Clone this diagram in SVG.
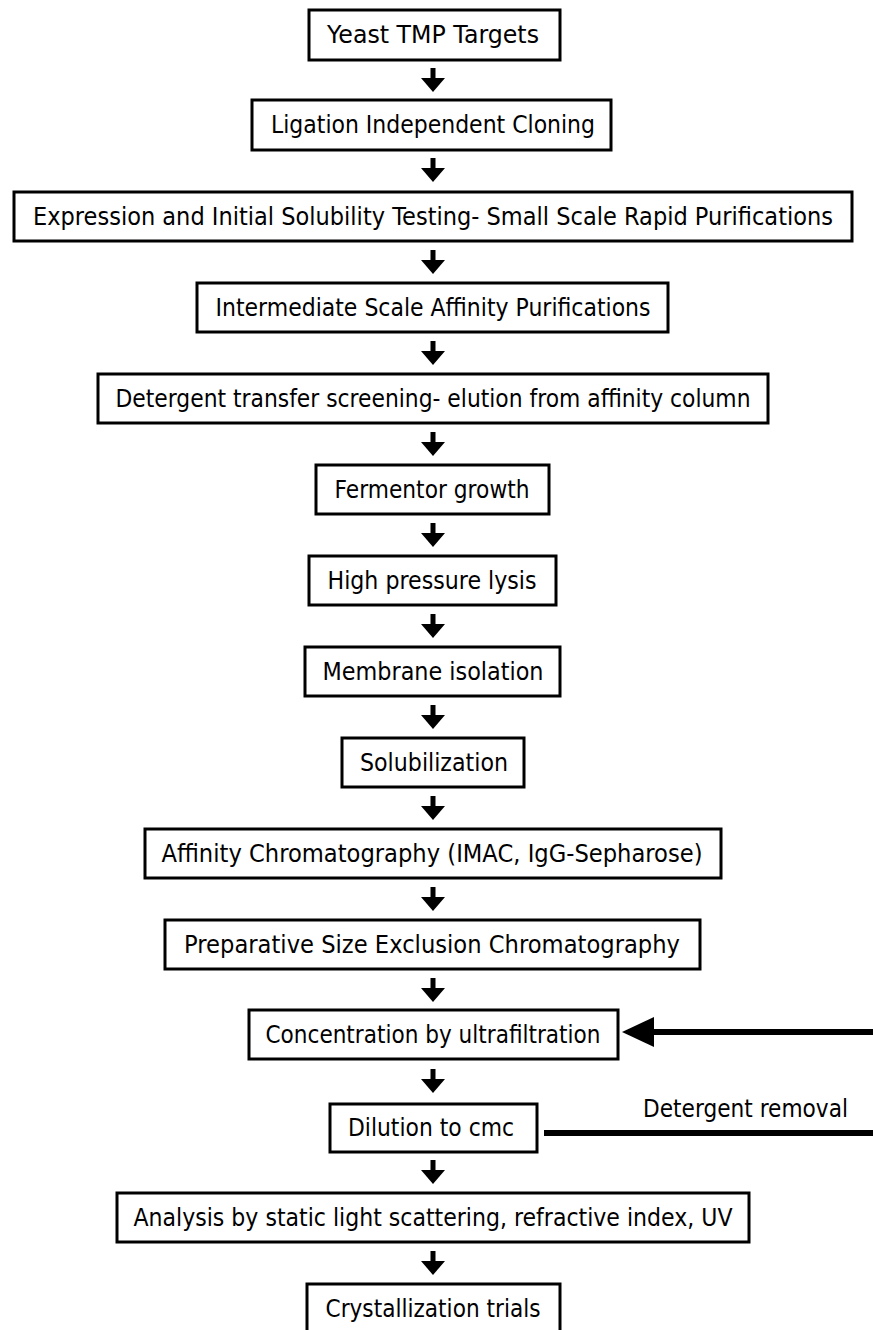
<svg xmlns="http://www.w3.org/2000/svg" width="873" height="1330" viewBox="0 0 873 1330">
<style>
.box{fill:#fff;stroke:#000;stroke-width:3}
.t{font-family:"DejaVu Sans","Liberation Sans",sans-serif;font-size:24px;fill:#000;text-anchor:middle}
.tl{font-family:"DejaVu Sans","Liberation Sans",sans-serif;font-size:24px;fill:#000}
</style>
<defs>
<g id="dn"><rect x="-2.5" y="0" width="5" height="12"/><polygon points="-12,10 12,10 0,24"/></g>
</defs>
<rect width="873" height="1330" fill="#fff"/>
<g id="connectors">
<use href="#dn" x="433" y="68"/>
<use href="#dn" x="433" y="158"/>
<use href="#dn" x="433" y="250"/>
<use href="#dn" x="433" y="341"/>
<use href="#dn" x="433" y="432"/>
<use href="#dn" x="433" y="523"/>
<use href="#dn" x="433" y="614"/>
<use href="#dn" x="433" y="705"/>
<use href="#dn" x="433" y="796"/>
<use href="#dn" x="433" y="887"/>
<use href="#dn" x="433" y="978"/>
<use href="#dn" x="433" y="1069"/>
<use href="#dn" x="433" y="1160"/>
<use href="#dn" x="433" y="1251"/>
<rect x="652" y="1029" width="221" height="6"/>
<polygon points="622,1032 654,1017 654,1047"/>
<rect x="544" y="1130" width="329" height="6"/>
<text class="tl" x="643" y="1117" textLength="205" lengthAdjust="spacingAndGlyphs">Detergent removal</text>
</g>
<g id="n1"><rect class="box" x="309" y="10" width="251" height="50"/><text class="t" x="433" y="43" textLength="212" lengthAdjust="spacingAndGlyphs">Yeast TMP Targets</text></g>
<g id="n2"><rect class="box" x="252" y="100" width="359" height="50"/><text class="t" x="433" y="133" textLength="324" lengthAdjust="spacingAndGlyphs">Ligation Independent Cloning</text></g>
<g id="n3"><rect class="box" x="14" y="192" width="838" height="49"/><text class="t" x="433" y="225" textLength="800" lengthAdjust="spacingAndGlyphs">Expression and Initial Solubility Testing- Small Scale Rapid Purifications</text></g>
<g id="n4"><rect class="box" x="197" y="283" width="471" height="49"/><text class="t" x="433" y="316" textLength="435" lengthAdjust="spacingAndGlyphs">Intermediate Scale Affinity Purifications</text></g>
<g id="n5"><rect class="box" x="98" y="374" width="670" height="49"/><text class="t" x="433" y="407" textLength="635" lengthAdjust="spacingAndGlyphs">Detergent transfer screening- elution from affinity column</text></g>
<g id="n6"><rect class="box" x="316" y="465" width="233" height="49"/><text class="t" x="432" y="498" textLength="195" lengthAdjust="spacingAndGlyphs">Fermentor growth</text></g>
<g id="n7"><rect class="box" x="309" y="556" width="247" height="49"/><text class="t" x="432" y="589" textLength="209" lengthAdjust="spacingAndGlyphs">High pressure lysis</text></g>
<g id="n8"><rect class="box" x="305" y="647" width="255" height="49"/><text class="t" x="433" y="680" textLength="221" lengthAdjust="spacingAndGlyphs">Membrane isolation</text></g>
<g id="n9"><rect class="box" x="342" y="738" width="182" height="49"/><text class="t" x="434" y="771" textLength="148" lengthAdjust="spacingAndGlyphs">Solubilization</text></g>
<g id="n10"><rect class="box" x="145" y="829" width="576" height="49"/><text class="t" x="432" y="862" textLength="541" lengthAdjust="spacingAndGlyphs">Affinity Chromatography (IMAC, IgG-Sepharose)</text></g>
<g id="n11"><rect class="box" x="165" y="920" width="535" height="49"/><text class="t" x="432" y="953" textLength="496" lengthAdjust="spacingAndGlyphs">Preparative Size Exclusion Chromatography</text></g>
<g id="n12"><rect class="box" x="249" y="1010" width="369" height="49"/><text class="t" x="433" y="1043" textLength="335" lengthAdjust="spacingAndGlyphs">Concentration by ultrafiltration</text></g>
<g id="n13"><rect class="box" x="330" y="1104" width="207" height="48"/><text class="t" x="431" y="1136" textLength="166" lengthAdjust="spacingAndGlyphs">Dilution to cmc</text></g>
<g id="n14"><rect class="box" x="117" y="1193" width="632" height="49"/><text class="t" x="433" y="1226" textLength="599" lengthAdjust="spacingAndGlyphs">Analysis by static light scattering, refractive index, UV</text></g>
<g id="n15"><rect class="box" x="307" y="1284" width="253" height="50"/><text class="t" x="433" y="1317" textLength="215" lengthAdjust="spacingAndGlyphs">Crystallization trials</text></g>
</svg>
